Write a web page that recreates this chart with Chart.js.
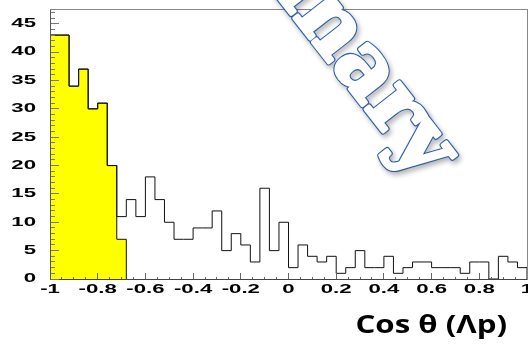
<!DOCTYPE html>
<html>
<head>
<meta charset="utf-8">
<script src="https://cdn.jsdelivr.net/npm/chart.js@4/dist/chart.umd.min.js"></script>
<style>
  html, body { margin: 0; padding: 0; background: #fff; overflow: hidden; }
  canvas { display: block; }
</style>
</head>
<body>
<canvas id="chart" width="528" height="344"></canvas>
<script>
// cos(theta) of Lambda-p pairs: 50 bins of width 0.04 between -1 and 1
const binEdges = Array.from({ length: 51 }, (_, i) => +(-1 + 0.04 * i).toFixed(2));

// all entries per bin
const counts = [
  43, 43, 34, 37, 30, 31, 20, 11, 14, 11,
  18, 14, 10, 7, 7, 9, 9, 12, 5, 8,
  6, 3, 16, 5, 10, 2, 6, 4, 3, 4,
  1, 2, 5, 2, 2, 4, 1, 2, 3, 3,
  2, 2, 2, 1, 3, 3, 0, 4, 3, 2
];

// selected (shaded) entries, first bins only
const selectedCounts = [43, 43, 34, 37, 30, 31, 20, 7];

const xTickLabels = ['-1', '-0.8', '-0.6', '-0.4', '-0.2', '0', '0.2', '0.4', '0.6', '0.8', '1'];
const yTickLabels = ['0', '5', '10', '15', '20', '25', '30', '35', '40', '45'];

const axisTitle = 'Cos θ (Λp)';
const watermarkText = 'Preliminary';

// histogram outline as a step path: rises at the first edge, drops at the last
function stepPoints(values) {
  const pts = [{ x: binEdges[0], y: 0 }];
  values.forEach((v, i) => pts.push({ x: binEdges[i], y: v }));
  pts.push({ x: binEdges[values.length], y: 0 });
  return pts;
}

// tick labels are drawn horizontally widened, like the original ROOT canvas
const LABEL_STRETCH = 1.85;
const TITLE_STRETCH = 1.25;
const TITLE_RIGHT_INSET = 20;
const TITLE_BASELINE_INSET = 11;

class StretchedTickScale extends Chart.LinearScale {
  static id = 'stretchedTicks';
  static defaults = Chart.LinearScale.defaults;

  drawLabels(chartArea) {
    if (!this.options.ticks.display) return;
    const ctx = this.ctx;
    for (const item of this.getLabelItems(chartArea)) {
      if (item.label === '' || item.label == null) continue;
      const o = item.options;
      ctx.save();
      ctx.translate(o.translation[0], o.translation[1]);
      ctx.scale(LABEL_STRETCH, 1);
      ctx.font = item.font.string;
      ctx.fillStyle = o.color;
      ctx.textAlign = o.textAlign;
      ctx.textBaseline = o.textBaseline;
      ctx.fillText(item.label, 0, item.textOffset);
      ctx.restore();
    }
  }

  // axis title: right-aligned below the axis, slightly widened
  drawTitle() {
    const t = this.options.title;
    if (!t.display) return;
    const ctx = this.ctx;
    const f = t.font;
    ctx.save();
    ctx.font = `${f.weight} ${f.size}px ${f.family}`;
    ctx.fillStyle = t.color;
    ctx.textAlign = 'right';
    ctx.textBaseline = 'alphabetic';
    ctx.translate(this.chart.chartArea.right - TITLE_RIGHT_INSET, this.bottom - TITLE_BASELINE_INSET);
    ctx.scale(TITLE_STRETCH, 1);
    ctx.fillText(t.text, 0, 0);
    ctx.restore();
  }
}
Chart.register(StretchedTickScale);

const isMajorX = v => Math.round(v * 100) % 20 === 0;
const isMajorY = v => Math.round(v) % 5 === 0;

const tickFont = { family: '"Liberation Sans", Arial, sans-serif', weight: 'bold', size: 12 };

// no extra room reserved for the end labels: the plot frame runs to the canvas edge
function noEndPadding(s) {
  s.paddingLeft = 0; s.paddingRight = 0; s.paddingTop = 0; s.paddingBottom = 0;
}

const watermark = {
  id: 'watermark',
  afterDraw(chart) {
    const ctx = chart.ctx;
    ctx.save();
    ctx.font = 'bold 84px "DejaVu Serif"';
    const before = ctx.measureText(watermarkText.slice(0, 8)).width;
    const aWidth = ctx.measureText('a').width;
    ctx.translate(364, 72);
    ctx.rotate(52 * Math.PI / 180);
    const x0 = -(before + aWidth / 2);
    const y0 = 22;
    ctx.lineJoin = 'round';
    // heavy outline: blue rim around a widened white letter body
    ctx.shadowColor = 'rgba(0,0,0,0.3)';
    ctx.shadowBlur = 5;
    ctx.shadowOffsetX = 2;
    ctx.shadowOffsetY = 3;
    ctx.lineWidth = 5.6;
    ctx.strokeStyle = '#2a5ca8';
    ctx.strokeText(watermarkText, x0, y0);
    ctx.shadowColor = 'transparent';
    ctx.lineWidth = 3.4;
    ctx.strokeStyle = '#ffffff';
    ctx.strokeText(watermarkText, x0, y0);
    ctx.fillStyle = '#ffffff';
    ctx.fillText(watermarkText, x0, y0);
    ctx.restore();
  }
};

new Chart(document.getElementById('chart'), {
  type: 'line',
  data: {
    datasets: [
      {
        label: 'all',
        data: stepPoints(counts),
        stepped: 'before',
        borderColor: '#111111',
        borderWidth: 1,
        pointRadius: 0,
        fill: false
      },
      {
        label: 'selected',
        data: stepPoints(selectedCounts),
        stepped: 'before',
        borderColor: '#111111',
        borderWidth: 1,
        backgroundColor: '#ffff00',
        pointRadius: 0,
        fill: 'origin'
      }
    ]
  },
  options: {
    responsive: false,
    animation: false,
    devicePixelRatio: 1,
    layout: { padding: { top: 9, right: 1, left: 0, bottom: 0 } },
    plugins: { legend: { display: false }, tooltip: { enabled: false } },
    scales: {
      x: {
        type: 'stretchedTicks',
        position: 'bottom',
        min: -1,
        max: 1,
        afterFit: s => { noEndPadding(s); s.height = 65; },
        ticks: {
          stepSize: 0.05,
          maxTicksLimit: 100,
          includeBounds: false,
          autoSkip: false,
          maxRotation: 0,
          minRotation: 0,
          padding: 9,
          color: '#000',
          font: tickFont,
          callback: v => isMajorX(v) ? xTickLabels[Math.round((v + 1) * 5)] : ''
        },
        grid: {
          drawOnChartArea: false,
          drawTicks: true,
          tickLength: -6,
          tickColor: '#666',
          tickWidth: 1,
          tickBorderDash: c => isMajorX(c.tick.value) ? [] : [3, 100],
          z: 1
        },
        border: { color: '#444', width: 1, z: 1 },
        title: {
          display: true,
          text: axisTitle,
          color: '#000',
          font: { family: '"Open Sans", "Noto Sans", sans-serif', weight: 'bold', size: 25, lineHeight: 1 }
        }
      },
      y: {
        type: 'stretchedTicks',
        position: 'left',
        min: 0,
        max: 47.6,
        afterFit: s => { noEndPadding(s); s.width = 50; },
        ticks: {
          stepSize: 1,
          maxTicksLimit: 100,
          includeBounds: false,
          autoSkip: false,
          padding: 23,
          color: '#000',
          font: tickFont,
          callback: v => isMajorY(v) ? yTickLabels[Math.round(v / 5)] : ''
        },
        grid: {
          drawOnChartArea: false,
          drawTicks: true,
          tickLength: -9,
          tickColor: '#777',
          tickWidth: 1,
          tickBorderDash: c => isMajorY(c.tick.value) ? [] : [0, 4, 5, 100],
          z: 1
        },
        border: { color: '#555', width: 1, z: 1 }
      },
      xTop: {
        type: 'linear',
        position: 'top',
        min: -1,
        max: 1,
        afterFit: s => { noEndPadding(s); s.height = 0; },
        ticks: { display: false },
        grid: { drawOnChartArea: false, drawTicks: false },
        border: { color: '#888', width: 1, z: 1 }
      },
      yRight: {
        type: 'linear',
        position: 'right',
        min: 0,
        max: 47.6,
        afterFit: s => { noEndPadding(s); s.width = 0; },
        ticks: { display: false },
        grid: { drawOnChartArea: false, drawTicks: false },
        border: { color: '#888', width: 1, z: 1 }
      }
    }
  },
  plugins: [watermark]
});
</script>
</body>
</html>
